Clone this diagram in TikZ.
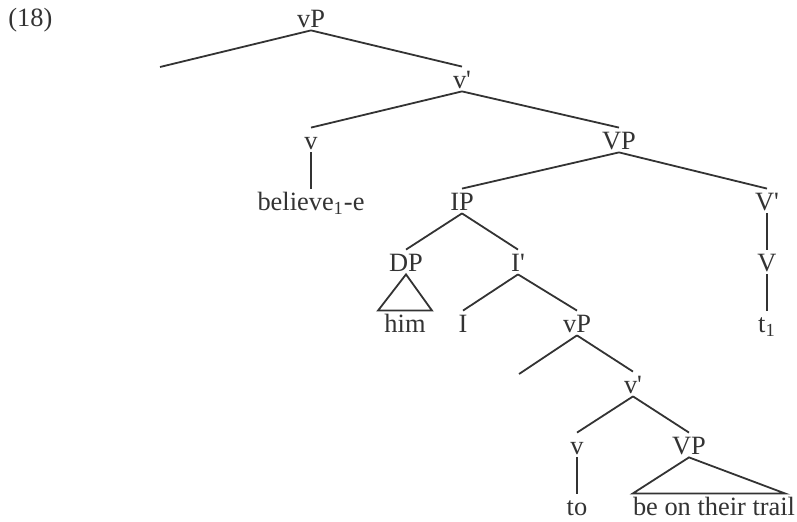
\documentclass[tikz,border=0pt]{standalone}
\usepackage{fontspec}
\setmainfont{Liberation Serif}
\usepackage{tikz}
\usetikzlibrary{positioning}
\definecolor{treegray}{HTML}{333333}
\newcommand{\tbar}{\textquotesingle}

\begin{document}
\begin{tikzpicture}[
  x=0.5pt, y=-0.5pt,
  cat/.style={anchor=base, inner sep=0pt, text height=11pt, text depth=1pt,
    font=\fontsize{13.2}{15}\selectfont, text=treegray},
  branch/.style={draw=treegray, line width=0.9pt},
]
  \useasboundingbox (0,0) rectangle (797,522);
  \node[cat, anchor=base west] (ex) at (8,27) {(18)};

  % upper shell
  \node[cat] (vPtop) at (311,28) {vP};
  \coordinate (spec) at (160,67);
  \node[cat] (vbartop) at (462,89) {v\tbar};
  \node[cat] (vtop) at (311,150) {v};
  \node[cat] (VPtop) at (619,150) {VP};
  \node[cat] (believe) at (311,211) {believe\textsubscript{1}-e};
  \node[cat] (IP) at (462,211) {IP};
  \node[cat] (Vbar) at (767,211) {V\tbar};
  \node[cat] (DP) at (406,272) {DP};
  \node[cat] (Ibar) at (518,272) {I\tbar};
  \node[cat] (V) at (767,272) {V};
  \node[cat] (him) at (405,333) {him};
  \node[cat] (I) at (463,333) {I};
  \node[cat] (vPlow) at (577,333) {vP};
  \node[cat] (trace) at (767,333) {t\textsubscript{1}};

  % lower shell
  \coordinate (speclow) at (519,374);
  \node[cat] (vbarlow) at (633,394) {v\tbar};
  \node[cat] (vlow) at (577,455) {v};
  \node[cat] (VPlow) at (689,455) {VP};
  \node[cat] (to) at (577,516) {to};
  \node[cat] (trail) at (714,516) {be on their trail};

  \draw[branch] (vPtop.south) -- (spec);
  \draw[branch] (vPtop.south) -- (vbartop.north);
  \draw[branch] (vbartop.south) -- (vtop.north);
  \draw[branch] (vbartop.south) -- (VPtop.north);
  \draw[branch] (vtop.south) -- (believe.north);
  \draw[branch] (VPtop.south) -- (IP.north);
  \draw[branch] (VPtop.south) -- (Vbar.north);
  \draw[branch] (IP.south) -- (DP.north);
  \draw[branch] (IP.south) -- (Ibar.north);
  \draw[branch] (Vbar.south) -- (V.north);
  \draw[branch] (V.south) -- (trace.north);
  \draw[branch] (DP.south) -- ([xshift=-13.5pt]him.north) -- ([xshift=13.5pt]him.north) -- cycle;
  \draw[branch] (Ibar.south) -- (I.north);
  \draw[branch] (Ibar.south) -- (vPlow.north);
  \draw[branch] (vPlow.south) -- (speclow);
  \draw[branch] (vPlow.south) -- (vbarlow.north);
  \draw[branch] (vbarlow.south) -- (vlow.north);
  \draw[branch] (vbarlow.south) -- (VPlow.north);
  \draw[branch] (vlow.south) -- (to.north);
  \draw[branch] (VPlow.south) -- (trail.north west) -- ([xshift=-5pt]trail.north east) -- cycle;
\end{tikzpicture}
\end{document}
